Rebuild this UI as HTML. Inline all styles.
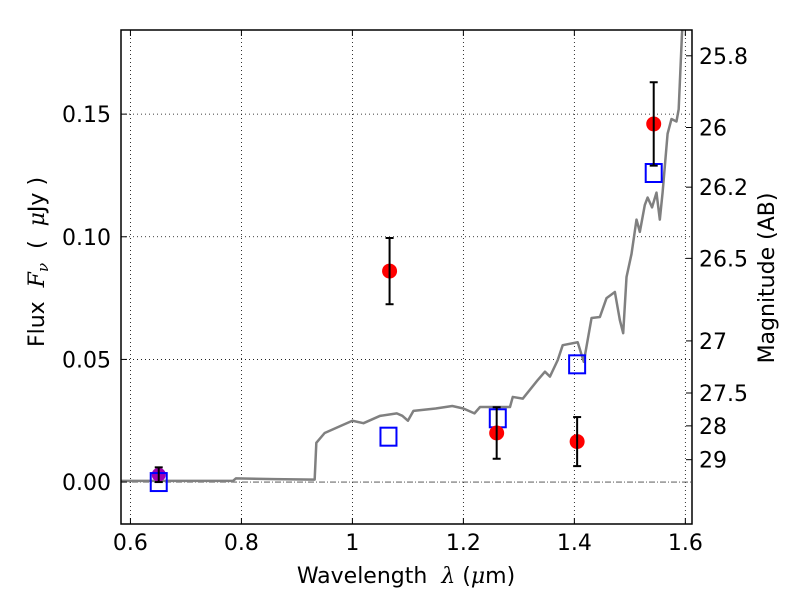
<!DOCTYPE html>
<html><head><meta charset="utf-8"><style>
body{margin:0;background:#fff}
svg{display:block;font-family:"DejaVu Sans","Liberation Sans",sans-serif}
</style></head><body>
<svg id="chart" width="800" height="600" viewBox="0 0 800 600" xmlns="http://www.w3.org/2000/svg">
<rect width="800" height="600" fill="#fff"/>
<g id="grid"></g>
<g id="model"></g>
<g id="marks"></g>
<g id="axes"></g>
<text x="406" y="583" font-size="22" text-anchor="middle" xml:space="preserve">Wavelength  <tspan font-style="italic" font-family="DejaVu Serif,serif">λ</tspan> (<tspan font-style="italic" font-family="DejaVu Serif,serif">μ</tspan>m)</text>
<text transform="translate(44,262) rotate(-90)" font-size="22" text-anchor="middle" xml:space="preserve">Flux  <tspan font-style="italic" font-family="DejaVu Serif,serif">F</tspan><tspan font-style="italic" font-family="DejaVu Serif,serif" font-size="15" dy="4">ν</tspan><tspan dy="-4">  (  </tspan><tspan font-style="italic" font-family="DejaVu Serif,serif">μ</tspan>Jy )</text>
<text transform="translate(774,278) rotate(-90)" font-size="22" text-anchor="middle">Magnitude (AB)</text>
</svg>
<script>
const xTicks=[0.6,0.8,1,1.2,1.4,1.6];
const xTickLabels=["0.6","0.8","1","1.2","1.4","1.6"];
const yTicks=[0,0.05,0.10,0.15];
const yTickLabels=["0.00","0.05","0.10","0.15"];
const magTicks=[25.8,26,26.2,26.5,27,27.5,28,29];
const magTickLabels=["25.8","26","26.2","26.5","27","27.5","28","29"];
const modelWl=[0.583,0.70,0.785,0.79,0.86,0.932,0.935,0.95,0.98,1.0,1.02,1.05,1.08,1.09,1.1,1.11,1.15,1.18,1.2,1.22,1.23,1.284,1.289,1.307,1.334,1.347,1.356,1.370,1.379,1.406,1.417,1.431,1.446,1.458,1.473,1.482,1.488,1.494,1.503,1.512,1.518,1.527,1.532,1.540,1.548,1.554,1.559,1.568,1.575,1.584,1.588,1.594,1.597];
const modelFlux=[0.0005,0.0005,0.0005,0.0015,0.0012,0.001,0.016,0.020,0.023,0.025,0.024,0.027,0.028,0.027,0.025,0.029,0.030,0.031,0.030,0.028,0.0306,0.0306,0.0347,0.034,0.0416,0.045,0.043,0.0497,0.0558,0.057,0.049,0.0669,0.0673,0.075,0.0775,0.066,0.0607,0.0836,0.093,0.107,0.102,0.113,0.116,0.112,0.118,0.107,0.118,0.142,0.148,0.147,0.152,0.183,0.19];
const obsWl=[1.067,1.26,1.405,1.543];
const obsFlux=[0.086,0.020,0.0165,0.146];
const obsErr=[0.0135,0.0105,0.010,0.017];
const detWl=[0.651];const detFlux=[0.003];const detErr=[0.003];
const modWl=[0.651,1.065,1.262,1.405,1.543];
const modFlux=[0.0,0.0185,0.026,0.048,0.126];
const L=121,R=692,T=30,B=524,X0=0.583,X1=1.612,Y0=-0.0171,Y1=0.1843;
const sx=v=>L+(v-X0)/(X1-X0)*(R-L);
const sy=v=>B-(v-Y0)/(Y1-Y0)*(B-T);
const NS="http://www.w3.org/2000/svg";
function mk(p,tag,a){const e=document.createElementNS(NS,tag);for(const k in a)e.setAttribute(k,a[k]);p.appendChild(e);return e;}
const g=document.getElementById('grid'),m=document.getElementById('model'),pk=document.getElementById('marks'),ax=document.getElementById('axes');
xTicks.forEach((t,i)=>{const x=sx(t);
 const l=mk(g,'line',{x1:x,x2:x,y1:T,y2:B,stroke:'#000','stroke-width':0.8,'stroke-dasharray':'1,3'});
 
 mk(ax,'line',{x1:x,x2:x,y1:B,y2:B-6,stroke:'#000'});mk(ax,'line',{x1:x,x2:x,y1:T,y2:T+6,stroke:'#000'});
 const tx=mk(ax,'text',{x:x,y:B+26,'font-size':22,'text-anchor':'middle'});tx.textContent=xTickLabels[i];
 });
yTicks.forEach((t,i)=>{const y=sy(t);
 if(t!==0){const l=mk(g,'line',{x1:L,x2:R,y1:y,y2:y,stroke:'#000','stroke-width':0.8,'stroke-dasharray':'1,3'});
 }
 mk(ax,'line',{x1:L,x2:L+6,y1:y,y2:y,stroke:'#000'});
 const tx=mk(ax,'text',{x:L-10,y:y+8,'font-size':22,'text-anchor':'end'});tx.textContent=yTickLabels[i];
 });
const zl=mk(g,'line',{x1:L,x2:R,y1:sy(0),y2:sy(0),stroke:'#444','stroke-width':0.8,'stroke-dasharray':'6,2,1,2'});

magTicks.forEach((mg,i)=>{const y=sy(Math.pow(10,-0.4*(mg-23.9)));
 mk(ax,'line',{x1:R,x2:R-6,y1:y,y2:y,stroke:'#000'});
 const tx=mk(ax,'text',{x:R+7,y:y+8,'font-size':22});tx.textContent=magTickLabels[i];
 });
const cp=document.createElementNS(NS,'clipPath');cp.id='c';mk(cp,'rect',{x:L,y:T,width:R-L,height:B-T});ax.parentNode.insertBefore(cp,g);
m.setAttribute('clip-path','url(#c)');
const path=mk(m,'polyline',{points:modelWl.map((w,i)=>sx(w)+','+sy(modelFlux[i])).join(' '),fill:'none',stroke:'#808080','stroke-width':2.5,'stroke-linejoin':'round'});

function err(x,f,e){mk(pk,'line',{x1:x,x2:x,y1:sy(f-e),y2:sy(f+e),stroke:'#000','stroke-width':2});
 [f-e,f+e].forEach(v=>mk(pk,'line',{x1:x-4,x2:x+4,y1:sy(v),y2:sy(v),stroke:'#000','stroke-width':2}));}
detWl.forEach((w,i)=>{const c=mk(pk,'circle',{cx:sx(w),cy:sy(detFlux[i]),r:7,fill:'#a000b0'});
 });
modWl.forEach((w,i)=>{const r=mk(pk,'rect',{x:sx(w)-8,y:sy(modFlux[i])-9,width:16,height:18,fill:'none',stroke:'#00f','stroke-width':2});
 });
detWl.forEach((w,i)=>err(sx(w),detFlux[i],detErr[i]));
obsWl.forEach((w,i)=>{const c=mk(pk,'circle',{cx:sx(w),cy:sy(obsFlux[i]),r:7.5,fill:'#f00'});
 
 err(sx(w),obsFlux[i],obsErr[i]);});
const fr=mk(ax,'rect',{x:L,y:T,width:R-L,height:B-T,fill:'none',stroke:'#000','stroke-width':1.5});

</script>
</body></html>
